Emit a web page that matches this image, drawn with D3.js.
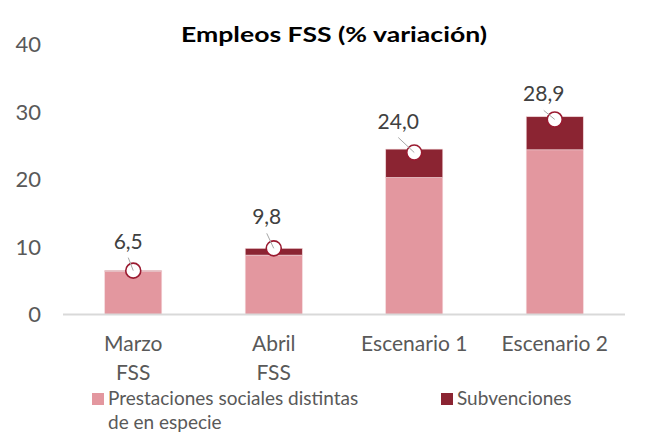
<!DOCTYPE html>
<html>
<head>
<meta charset="utf-8">
<script src="https://cdn.jsdelivr.net/npm/d3@7"></script>
<style>
  body { margin: 0; background: #fff; }
  svg { display: block; font-family: Lato, "Open Sans", sans-serif; }
</style>
</head>
<body>
<svg id="chart" width="648" height="441"></svg>
<script>
// data
var categories = [["Marzo", "FSS"], ["Abril", "FSS"], ["Escenario 1"], ["Escenario 2"]];
var prestaciones = [6.4, 8.8, 20.3, 24.4];
var subvenciones = [0.1, 1.0, 4.2, 4.9];
var totals = [6.5, 9.8, 24.0, 28.9];
var yTicks = [0, 10, 20, 30, 40];
var seriesNames = [["Prestaciones sociales distintas", "de en especie"], ["Subvenciones"]];

// label offsets from the marker (layout only)
var labelShift = [[-5, -22], [-7, -24], [-16, -24], [-11, -18]];

var pink = "#E3979F", wine = "#8B2432", ring = "#9A1A30", grey = "#595959";

var svg = d3.select("#chart");
var keys = categories.map(function (c) { return c.join(" "); });

var x = d3.scaleBand().domain(keys).range([63, 625]).paddingInner(0.594).paddingOuter(0.297);
var y = d3.scaleLinear().domain([0, 40]).range([314.5, 44.5]);

// title
svg.append("text")
  .attr("x", 181).attr("y", 42)
  .attr("textLength", 306).attr("lengthAdjust", "spacingAndGlyphs")
  .style("font-weight", "bold").style("font-size", "21px").style("fill", "#000")
  .text("Empleos FSS (% variación)");

// y tick labels (no axis line)
svg.append("g").selectAll("text").data(yTicks).enter().append("text")
  .attr("x", 41).attr("y", function (d) { return y(d); }).attr("dy", "0.36em")
  .attr("text-anchor", "end")
  .style("font-size", "22px").style("fill", grey)
  .text(function (d) { return d; });

// stacked bars
var rows = keys.map(function (k, i) { return { key: k, p: prestaciones[i], s: subvenciones[i] }; });
var stack = d3.stack().keys(["p", "s"])(rows);
var colors = [pink, wine];

svg.append("g").selectAll("g").data(stack).enter().append("g")
  .attr("fill", function (d, i) { return colors[i]; })
  .selectAll("rect").data(function (d) { return d; }).enter().append("rect")
  .attr("x", function (d) { return x(d.data.key); })
  .attr("width", x.bandwidth())
  .attr("y", function (d) { return y(d[1]); })
  .attr("height", function (d) { return y(d[0]) - y(d[1]); })
  .attr("stroke", "#F3D6D9").attr("stroke-width", 0.6);

// baseline
svg.append("line")
  .attr("x1", 63).attr("x2", 625)
  .attr("y1", y(0)).attr("y2", y(0))
  .attr("stroke", "#D9D9D9").attr("stroke-width", 2);

// total markers, leader lines and labels
var tot = svg.append("g").selectAll("g").data(totals).enter().append("g");

tot.append("circle")
  .attr("cx", function (d, i) { return x(keys[i]) + x.bandwidth() / 2; })
  .attr("cy", function (d) { return y(d); })
  .attr("r", 7.5)
  .attr("fill", "#fff").attr("stroke", ring).attr("stroke-width", 1.6);

tot.append("line")
  .attr("x1", function (d, i) { return x(keys[i]) + x.bandwidth() / 2 + labelShift[i][0]; })
  .attr("y1", function (d, i) { return y(d) + labelShift[i][1] + 9; })
  .attr("x2", function (d, i) { return x(keys[i]) + x.bandwidth() / 2; })
  .attr("y2", function (d) { return y(d); })
  .attr("stroke", "#A6A6A6").attr("stroke-width", 1);

tot.append("text")
  .attr("x", function (d, i) { return x(keys[i]) + x.bandwidth() / 2 + labelShift[i][0]; })
  .attr("y", function (d, i) { return y(d) + labelShift[i][1]; })
  .attr("text-anchor", "middle")
  .style("font-size", "21px").style("fill", "#404040")
  .text(function (d) { return d.toFixed(1).replace(".", ","); });

// category labels
var cat = svg.append("g").selectAll("text").data(categories).enter().append("text")
  .attr("text-anchor", "middle")
  .style("font-size", "21px").style("fill", grey);
cat.selectAll("tspan").data(function (d, i) { return d.map(function (t) { return { t: t, i: i }; }); })
  .enter().append("tspan")
  .attr("x", function (d) { return x(keys[d.i]) + x.bandwidth() / 2; })
  .attr("y", function (d, j) { return 351 + j * 29; })
  .text(function (d) { return d.t; });

// legend
var legX = [92, 441];
var leg = svg.append("g").selectAll("g").data(seriesNames).enter().append("g");
leg.append("rect")
  .attr("x", function (d, i) { return legX[i]; }).attr("y", 393)
  .attr("width", 12).attr("height", 12)
  .attr("fill", function (d, i) { return colors[i]; });
var lt = leg.append("text")
  .style("font-size", "19px").style("fill", grey);
lt.selectAll("tspan").data(function (d, i) { return d.map(function (t) { return { t: t, i: i }; }); })
  .enter().append("tspan")
  .attr("x", function (d) { return legX[d.i] + 16; })
  .attr("y", function (d, j) { return 405 + j * 24; })
  .text(function (d) { return d.t; });
</script>
</body>
</html>
